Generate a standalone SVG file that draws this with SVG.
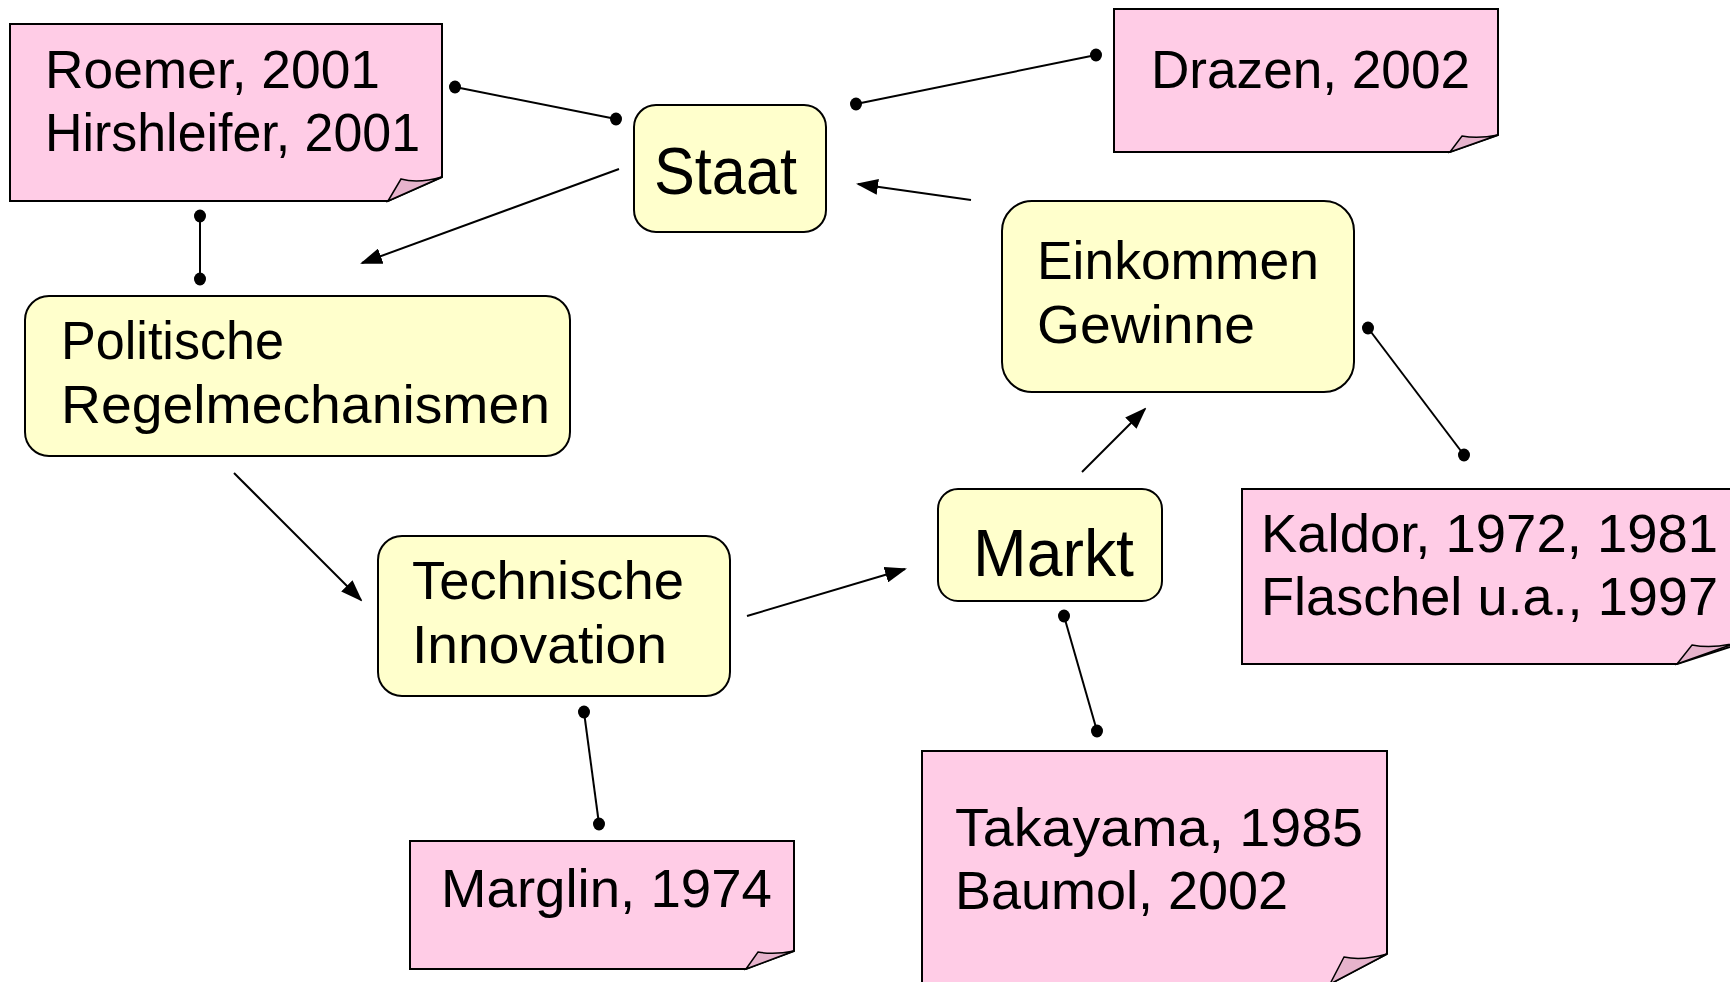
<svg xmlns="http://www.w3.org/2000/svg" width="1730" height="982" viewBox="0 0 1730 982">
<style>
.box{fill:#ffffcc;stroke:#000;stroke-width:2}
.note{fill:#ffcce6;stroke:#000;stroke-width:2}
.fold{fill:#e6b3cc;stroke:#000;stroke-width:1.5}
.t{font-family:"Liberation Sans",Arial,sans-serif;font-size:53px;fill:#000}
.big{font-size:66px}
.c{stroke:#000;stroke-width:2;fill:none}
</style>
<defs>
<marker id="ah" markerUnits="userSpaceOnUse" markerWidth="22" markerHeight="16" refX="20" refY="8" orient="auto"><path d="M0,0 L22,8 L0,16 Z" fill="#000"/></marker>
<marker id="dot" markerUnits="userSpaceOnUse" markerWidth="14" markerHeight="14" refX="7" refY="7"><ellipse cx="7" cy="7" rx="6" ry="6.5" fill="#000"/></marker>
</defs>
<rect width="1730" height="982" fill="#fff"/>
<g id="connectors">
<line class="c" x1="455" y1="87" x2="616" y2="119" marker-start="url(#dot)" marker-end="url(#dot)"/>
<line class="c" x1="856" y1="104" x2="1096" y2="55" marker-start="url(#dot)" marker-end="url(#dot)"/>
<line class="c" x1="619" y1="169" x2="362" y2="263" marker-end="url(#ah)"/>
<line class="c" x1="971" y1="200" x2="858" y2="184" marker-end="url(#ah)"/>
<line class="c" x1="200" y1="216" x2="200" y2="279" marker-start="url(#dot)" marker-end="url(#dot)"/>
<line class="c" x1="234" y1="473" x2="361" y2="600" marker-end="url(#ah)"/>
<line class="c" x1="747" y1="616" x2="905" y2="569" marker-end="url(#ah)"/>
<line class="c" x1="1082" y1="472" x2="1145" y2="409" marker-end="url(#ah)"/>
<line class="c" x1="1368" y1="328" x2="1464" y2="455" marker-start="url(#dot)" marker-end="url(#dot)"/>
<line class="c" x1="1064" y1="616" x2="1097" y2="731" marker-start="url(#dot)" marker-end="url(#dot)"/>
<line class="c" x1="584" y1="712" x2="599" y2="824" marker-start="url(#dot)" marker-end="url(#dot)"/>
</g>
<g id="roemer">
<path class="note" d="M10,24 H442 V177 L388,201 H10 Z"/>
<path class="fold" d="M388,201 L401,179 Q418,184 442,177 Z"/>
<text class="t" x="45" y="88" textLength="335" lengthAdjust="spacingAndGlyphs">Roemer, 2001</text>
<text class="t" x="45" y="151" textLength="375" lengthAdjust="spacingAndGlyphs">Hirshleifer, 2001</text>
</g>
<g id="drazen">
<path class="note" d="M1114,9 H1498 V135 L1450,152 H1114 Z"/>
<path class="fold" d="M1450,152 L1462,136 Q1478,139 1498,135 Z"/>
<text class="t" x="1151" y="88" textLength="319" lengthAdjust="spacingAndGlyphs">Drazen, 2002</text>
</g>
<g id="staat">
<rect class="box" x="634" y="105" width="192" height="127" rx="22"/>
<text class="t big" x="654" y="194" textLength="143" lengthAdjust="spacingAndGlyphs">Staat</text>
</g>
<g id="einkommen">
<rect class="box" x="1002" y="201" width="352" height="191" rx="30"/>
<text class="t" x="1037" y="279" textLength="282" lengthAdjust="spacingAndGlyphs">Einkommen</text>
<text class="t" x="1037" y="343" textLength="218" lengthAdjust="spacingAndGlyphs">Gewinne</text>
</g>
<g id="politische">
<rect class="box" x="25" y="296" width="545" height="160" rx="24"/>
<text class="t" x="61" y="359" textLength="223" lengthAdjust="spacingAndGlyphs">Politische</text>
<text class="t" x="61" y="423" textLength="489" lengthAdjust="spacingAndGlyphs">Regelmechanismen</text>
</g>
<g id="technische">
<rect class="box" x="378" y="536" width="352" height="160" rx="24"/>
<text class="t" x="412" y="599" textLength="272" lengthAdjust="spacingAndGlyphs">Technische</text>
<text class="t" x="412" y="663" textLength="255" lengthAdjust="spacingAndGlyphs">Innovation</text>
</g>
<g id="markt">
<rect class="box" x="938" y="489" width="224" height="112" rx="20"/>
<text class="t big" x="973" y="576" textLength="161" lengthAdjust="spacingAndGlyphs">Markt</text>
</g>
<g id="kaldor">
<path class="note" d="M1242,489 H1736 V645 L1677,664 H1242 Z"/>
<path class="fold" d="M1677,664 L1692,645 Q1712,649 1736,643 Z"/>
<text class="t" x="1261" y="552" textLength="457" lengthAdjust="spacingAndGlyphs">Kaldor, 1972, 1981</text>
<text class="t" x="1261" y="615" textLength="457" lengthAdjust="spacingAndGlyphs">Flaschel u.a., 1997</text>
</g>
<g id="takayama">
<path class="note" d="M922,751 H1387 V954 L1330,984 H922 Z"/>
<path class="fold" d="M1330,984 L1344,957 Q1362,961 1387,954 Z"/>
<text class="t" x="955" y="846" textLength="408" lengthAdjust="spacingAndGlyphs">Takayama, 1985</text>
<text class="t" x="955" y="909" textLength="333" lengthAdjust="spacingAndGlyphs">Baumol, 2002</text>
</g>
<g id="marglin">
<path class="note" d="M410,841 H794 V951 L746,969 H410 Z"/>
<path class="fold" d="M746,969 L758,952 Q774,955 794,951 Z"/>
<text class="t" x="441" y="907" textLength="331" lengthAdjust="spacingAndGlyphs">Marglin, 1974</text>
</g>
</svg>
